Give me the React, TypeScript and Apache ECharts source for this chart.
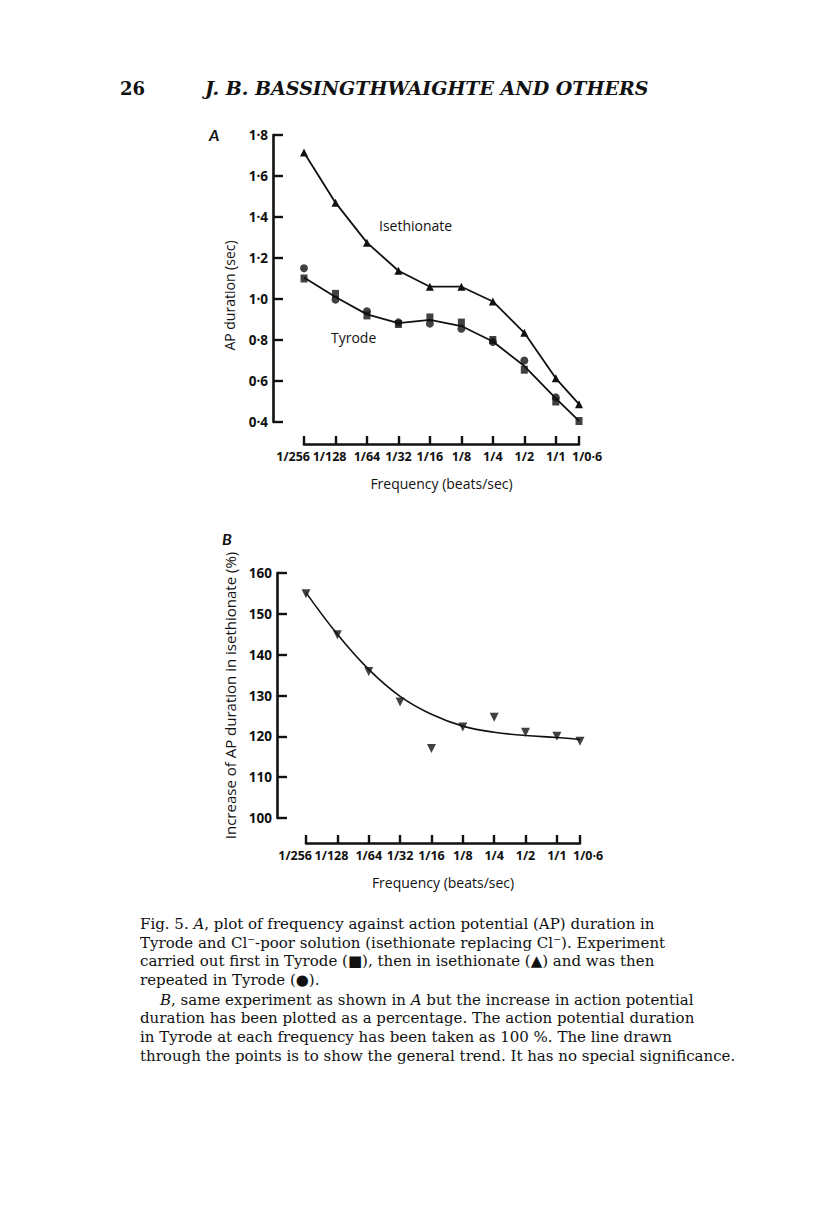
import React, { useEffect, useRef } from 'react';
import * as echarts from 'echarts';

// x positions: log2 of stimulation frequency (beats/sec)
const freqLog2 = [-8, -7, -6, -5, -4, -3, -2, -1, 0, 0.737];
const freqLabels = ['1/256', '1/128', '1/64', '1/32', '1/16', '1/8', '1/4', '1/2', '1/1', '1/0·6'];

// Panel A: AP duration (sec)
const isethionateA = [1.715, 1.47, 1.275, 1.138, 1.06, 1.06, 0.988, 0.835, 0.613, 0.487];
const tyrodeLineA = [1.105, 1.01, 0.925, 0.882, 0.898, 0.868, 0.793, 0.673, 0.515, 0.405];
const tyrodeFirstA = [1.1, 1.025, 0.92, 0.878, 0.91, 0.885, 0.8, 0.655, 0.5, 0.405];
const tyrodeRepeatA: (number | null)[] = [1.15, 0.997, 0.94, 0.886, 0.88, 0.855, 0.79, 0.7, 0.52, null];
const yTicksA = { min: 0.4, max: 1.8, interval: 0.2 };

// Panel B: increase of AP duration in isethionate (%)
const increaseB = [154.9, 144.9, 135.9, 128.4, 117.0, 122.3, 124.7, 121.0, 120.0, 118.8];
const trendB = [155.2, 145.0, 136.4, 129.8, 125.4, 122.5, 121.0, 120.2, 119.7, 119.2];
const yTicksB = { min: 100, max: 160, interval: 10 };

const captionLines = [
  'Fig. 5. {i|A}, plot of frequency against action potential (AP) duration in',
  'Tyrode and Cl⁻-poor solution (isethionate replacing Cl⁻). Experiment',
  'carried out first in Tyrode (■), then in isethionate (▲) and was then',
  'repeated in Tyrode (●).',
  '{i|B}, same experiment as shown in {i|A} but the increase in action potential',
  'duration has been plotted as a percentage. The action potential duration',
  'in Tyrode at each frequency has been taken as 100 %. The line drawn',
  'through the points is to show the general trend. It has no special significance.',
];

const INK = '#111';
const SANS = 'Open Sans';

function pairs(vals: (number | null)[]) {
  return freqLog2.map((x, i) => [x, vals[i]]);
}

function xLabel(v: number) {
  const i = freqLog2.findIndex((x) => Math.abs(x - v) < 1e-6);
  if (i < 0) return '';
  const key = i === 0 ? 'first' : i === 1 ? 'second' : i === freqLog2.length - 1 ? 'last' : 'mid';
  return '{' + key + '|' + freqLabels[i] + '}';
}

const labelFont = { color: INK, fontFamily: SANS, fontSize: 12.5, fontWeight: 'bold' as const };

function makeX(gridIndex: number, offset: number) {
  return {
    type: 'value',
    gridIndex,
    min: freqLog2[0],
    max: freqLog2[freqLog2.length - 1],
    interval: 1,
    offset,
    axisLine: { show: true, onZero: false, lineStyle: { color: INK, width: 2.6 } },
    axisTick: { show: true, inside: true, length: 8, lineStyle: { color: INK, width: 2.4 } },
    splitLine: { show: false },
    axisLabel: {
      ...labelFont,
      margin: 6,
      hideOverlap: false,
      showMinLabel: true,
      showMaxLabel: true,
      formatter: xLabel,
      rich: {
        first: { ...labelFont, width: 12, align: 'right' },
        second: { ...labelFont, width: 22, align: 'right' },
        mid: { ...labelFont, width: 22, align: 'center' },
        last: { ...labelFont, width: 14, align: 'left' },
      },
    },
    name: 'Frequency (beats/sec)',
    nameLocation: 'middle',
    nameGap: 32,
    nameTextStyle: { color: INK, fontFamily: SANS, fontSize: 14 },
  };
}

function makeY(gridIndex: number, t: { min: number; max: number; interval: number }, offset: number,
  fmt: (v: number) => string, name: string, nameGap: number, nameSize: number, padding: number[]) {
  return {
    type: 'value',
    gridIndex,
    min: t.min,
    max: t.max,
    interval: t.interval,
    offset,
    axisLine: { show: true, onZero: false, lineStyle: { color: INK, width: 2.6 } },
    axisTick: { show: true, inside: true, length: 10, lineStyle: { color: INK, width: 2.4 } },
    splitLine: { show: false },
    axisLabel: { ...labelFont, fontSize: 13.5, margin: 5, formatter: fmt, showMinLabel: true, showMaxLabel: true, hideOverlap: false },
    name,
    nameLocation: 'middle',
    nameGap,
    nameTextStyle: { color: INK, fontFamily: SANS, fontSize: nameSize, padding },
  };
}

export default function App() {
  const ref = useRef<HTMLDivElement>(null);
  useEffect(() => {
    if (!ref.current) return;
    const chart = echarts.init(ref.current, null, { renderer: 'svg' });
    const lineStyle = { color: INK, width: 1.8 };
    const graphics: any[] = [
      { type: 'text', left: 120, top: 79, style: { text: '26', font: 'bold 18px "DejaVu Serif"', fill: INK } },
      { type: 'text', left: 205, top: 78, style: { text: 'J. B. BASSINGTHWAIGHTE AND OTHERS', font: 'italic bold 19px "DejaVu Serif"', fill: INK } },
      { type: 'text', left: 209, top: 126, style: { text: 'A', font: 'italic bold 16px Lato', fill: INK } },
      { type: 'text', left: 222, top: 530, style: { text: 'B', font: 'italic bold 16px Lato', fill: INK } },
      { type: 'text', left: 379, top: 218, style: { text: 'Isethionate', font: '14px "Open Sans"', fill: INK } },
      { type: 'text', left: 331, top: 330, style: { text: 'Tyrode', font: '14px "Open Sans"', fill: INK } },
    ];
    const capTops = [916, 935, 953, 972, 992, 1010, 1029, 1048];
    captionLines.forEach((ln, k) => {
      graphics.push({
        type: 'text',
        left: k === 4 ? 160 : 140,
        top: capTops[k],
        style: {
          text: ln,
          font: '15px "DejaVu Serif"',
          fill: INK,
          rich: { i: { font: 'italic 15px "DejaVu Serif"', fill: INK } },
        },
      });
    });

    chart.setOption({
      animation: false,
      backgroundColor: '#fff',
      grid: [
        { left: 304, top: 135, width: 275, height: 287 },
        { left: 306, top: 573, width: 274, height: 245 },
      ],
      xAxis: [makeX(0, 22), makeX(1, 25)],
      yAxis: [
        makeY(0, yTicksA, 31, (v: number) => v.toFixed(1).replace('.', '·'), 'AP duration (sec)', 37, 14, [0, 34, 0, 0]),
        makeY(1, yTicksB, 29, (v: number) => String(v), 'Increase of AP duration in isethionate (%)', 40, 15, [0, 0, 0, 0]),
      ],
      series: [
        {
          name: 'Isethionate', type: 'line', xAxisIndex: 0, yAxisIndex: 0, data: pairs(isethionateA),
          symbol: 'triangle', symbolSize: 8, lineStyle, itemStyle: { color: INK },
        },
        {
          name: 'Tyrode', type: 'line', xAxisIndex: 0, yAxisIndex: 0, data: pairs(tyrodeLineA),
          symbol: 'none', lineStyle,
        },
        {
          name: 'Tyrode (first)', type: 'scatter', xAxisIndex: 0, yAxisIndex: 0, data: pairs(tyrodeFirstA),
          symbol: 'rect', symbolSize: [7, 8], itemStyle: { color: INK },
        },
        {
          name: 'Tyrode (repeat)', type: 'scatter', xAxisIndex: 0, yAxisIndex: 0,
          data: pairs(tyrodeRepeatA).filter((p) => p[1] !== null),
          symbol: 'circle', symbolSize: 8, itemStyle: { color: INK },
        },
        {
          name: 'Trend', type: 'line', xAxisIndex: 1, yAxisIndex: 1, data: pairs(trendB),
          symbol: 'none', smooth: 0.4, lineStyle: { color: INK, width: 1.6 },
        },
        {
          name: 'Increase', type: 'scatter', xAxisIndex: 1, yAxisIndex: 1, data: pairs(increaseB),
          symbol: 'triangle', symbolRotate: 180, symbolSize: 9, itemStyle: { color: INK },
        },
      ],
      graphic: graphics,
    });
    return () => chart.dispose();
  }, []);
  return (
    <div
      ref={ref}
      style={{ position: 'absolute', left: 0, top: 0, width: 816, height: 1221, background: '#fff' }}
    />
  );
}
